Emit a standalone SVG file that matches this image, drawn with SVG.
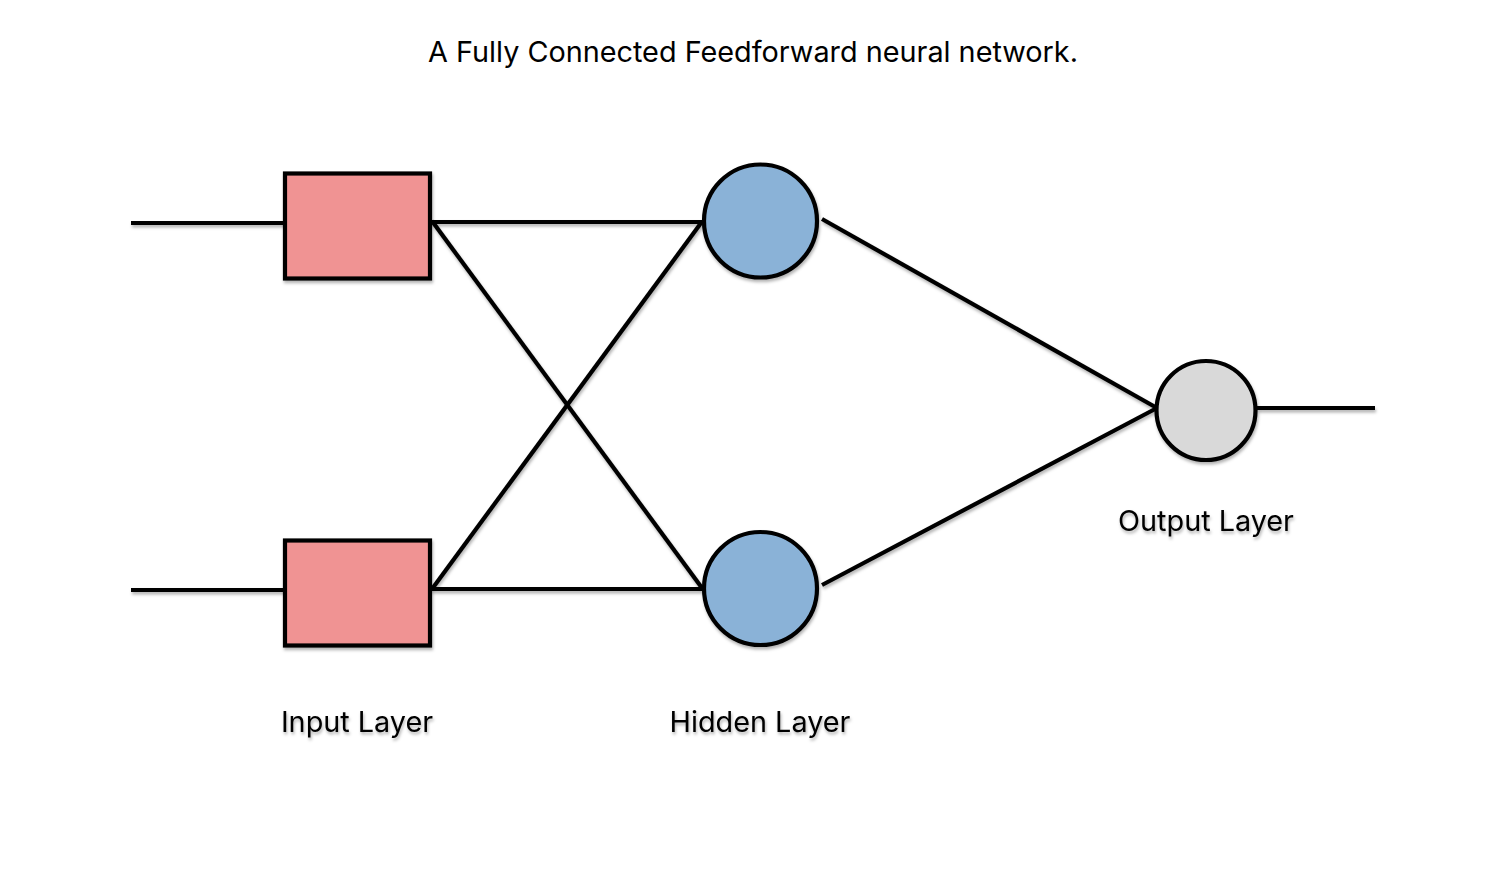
<svg xmlns="http://www.w3.org/2000/svg" width="1506" height="873" viewBox="0 0 1506 873">
<defs>
<filter id="sh" x="-20%" y="-20%" width="140%" height="140%">
<feDropShadow dx="1" dy="2.5" stdDeviation="1.5" flood-color="#000" flood-opacity="0.3"/>
</filter>
<style>
.lbl{font-family:Inter,"Noto Sans","Liberation Sans",sans-serif;font-size:28.8px;fill:#000;text-anchor:middle}
.edge{stroke:#000;stroke-width:4.2;fill:none;stroke-linecap:butt}
.rect{fill:#f09393;stroke:#000;stroke-width:4.2}
.hid{fill:#8ab2d7;stroke:#000;stroke-width:4.2}
.out{fill:#d9d9d9;stroke:#000;stroke-width:4.2}
</style>
</defs>
<rect width="1506" height="873" fill="#fff"/>
<text class="lbl" x="753" y="62">A Fully Connected Feedforward neural network.</text>
<g id="connectors" filter="url(#sh)">
<line class="edge" x1="131" y1="223" x2="285" y2="223"/>
<line class="edge" x1="131" y1="590" x2="285" y2="590"/>
<line class="edge" x1="431" y1="222" x2="702" y2="222"/>
<line class="edge" x1="432" y1="221" x2="702" y2="588"/>
<line class="edge" x1="432" y1="589" x2="701" y2="223"/>
<line class="edge" x1="431" y1="589" x2="702" y2="589"/>
<line class="edge" x1="822" y1="219" x2="1157" y2="408"/>
<line class="edge" x1="822" y1="585" x2="1157" y2="408"/>
<line class="edge" x1="1257" y1="408" x2="1375" y2="408"/>
</g>
<g id="input1" filter="url(#sh)"><rect class="rect" x="285" y="173.5" width="145" height="105"/></g>
<g id="input2" filter="url(#sh)"><rect class="rect" x="285" y="540.5" width="145" height="105"/></g>
<g id="hidden1" filter="url(#sh)"><circle class="hid" cx="760.5" cy="221" r="56.5"/></g>
<g id="hidden2" filter="url(#sh)"><circle class="hid" cx="760.5" cy="588.5" r="56.5"/></g>
<g id="output" filter="url(#sh)"><circle class="out" cx="1206" cy="410.5" r="49.5"/></g>
<g id="labels" filter="url(#sh)">
<text class="lbl" x="357" y="732">Input Layer</text>
<text class="lbl" x="760" y="732">Hidden Layer</text>
<text class="lbl" x="1206" y="531">Output Layer</text>
</g>
</svg>
